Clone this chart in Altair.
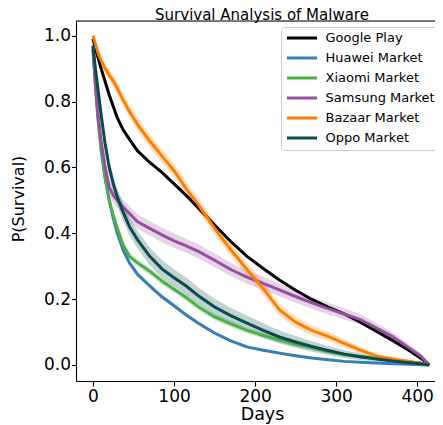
import altair as alt
import pandas as pd

# ---- data ----
days = [0, 3, 6, 10, 15, 20, 25, 30, 37, 45, 55, 70, 85, 100, 115, 130, 150, 170,
        190, 210, 230, 250, 270, 290, 310, 330, 350, 370, 390, 405, 415]

google_play = [0.99, 0.96, 0.935, 0.90, 0.86, 0.82, 0.785, 0.75, 0.715, 0.685, 0.65, 0.615,
               0.585, 0.55, 0.515, 0.477, 0.425, 0.375, 0.33, 0.293, 0.258, 0.227, 0.199,
               0.176, 0.155, 0.13, 0.102, 0.074, 0.044, 0.02, 0.0]
huawei = [0.97, 0.86, 0.76, 0.66, 0.57, 0.50, 0.445, 0.40, 0.35, 0.31, 0.275, 0.24, 0.207,
          0.18, 0.152, 0.127, 0.097, 0.073, 0.055, 0.045, 0.036, 0.028, 0.021, 0.016, 0.011,
          0.008, 0.006, 0.004, 0.002, 0.001, 0.0]
xiaomi = [0.96, 0.85, 0.75, 0.65, 0.565, 0.50, 0.455, 0.415, 0.365, 0.33, 0.31, 0.285, 0.255,
          0.23, 0.205, 0.177, 0.146, 0.125, 0.105, 0.09, 0.076, 0.063, 0.052, 0.041, 0.032,
          0.025, 0.02, 0.016, 0.01, 0.005, 0.0]
samsung = [0.96, 0.85, 0.76, 0.68, 0.60, 0.54, 0.515, 0.50, 0.48, 0.46, 0.435, 0.415, 0.395,
           0.377, 0.362, 0.345, 0.318, 0.29, 0.267, 0.248, 0.228, 0.208, 0.189, 0.171, 0.155,
           0.138, 0.112, 0.086, 0.052, 0.026, 0.0]
bazaar = [1.0, 0.975, 0.95, 0.925, 0.90, 0.88, 0.862, 0.84, 0.805, 0.77, 0.73, 0.68, 0.635,
          0.59, 0.535, 0.487, 0.415, 0.35, 0.29, 0.232, 0.168, 0.13, 0.105, 0.087, 0.066,
          0.045, 0.027, 0.018, 0.011, 0.005, 0.0]
oppo = [0.97, 0.90, 0.84, 0.76, 0.67, 0.60, 0.55, 0.51, 0.465, 0.42, 0.38, 0.33, 0.292, 0.265,
        0.24, 0.21, 0.176, 0.15, 0.127, 0.105, 0.085, 0.07, 0.056, 0.044, 0.033, 0.025, 0.018,
        0.012, 0.007, 0.004, 0.0]

# half-widths of the confidence bands
ci_google_play = [0.0, 0.002, 0.002, 0.002, 0.002, 0.002, 0.002, 0.002, 0.002, 0.002, 0.002,
                  0.002, 0.002, 0.002, 0.002, 0.002, 0.002, 0.002, 0.002, 0.002, 0.002, 0.002,
                  0.002, 0.002, 0.002, 0.002, 0.002, 0.002, 0.002, 0.001, 0.0]
ci_huawei = [0.005, 0.008, 0.008, 0.008, 0.008, 0.008, 0.007, 0.007, 0.007, 0.006, 0.006,
             0.006, 0.006, 0.005, 0.005, 0.005, 0.005, 0.004, 0.004, 0.004, 0.004, 0.003,
             0.003, 0.003, 0.003, 0.002, 0.002, 0.002, 0.001, 0.001, 0.0]
ci_xiaomi = [0.008, 0.015, 0.015, 0.015, 0.015, 0.014, 0.014, 0.013, 0.013, 0.012, 0.012,
             0.012, 0.012, 0.011, 0.011, 0.011, 0.01, 0.01, 0.009, 0.009, 0.008, 0.008,
             0.007, 0.007, 0.006, 0.006, 0.005, 0.005, 0.004, 0.003, 0.0]
ci_samsung = [0.01, 0.018, 0.02, 0.021, 0.022, 0.022, 0.022, 0.022, 0.022, 0.022, 0.022,
              0.022, 0.022, 0.022, 0.021, 0.021, 0.021, 0.02, 0.02, 0.02, 0.019, 0.019,
              0.018, 0.018, 0.017, 0.016, 0.015, 0.013, 0.011, 0.008, 0.0]
ci_bazaar = [0.005, 0.008, 0.01, 0.012, 0.015, 0.016, 0.017, 0.018, 0.019, 0.02, 0.02, 0.02,
             0.02, 0.021, 0.021, 0.021, 0.021, 0.02, 0.02, 0.019, 0.018, 0.017, 0.015, 0.014,
             0.012, 0.01, 0.008, 0.006, 0.004, 0.003, 0.0]
ci_oppo = [0.01, 0.015, 0.018, 0.02, 0.022, 0.024, 0.025, 0.026, 0.027, 0.027, 0.027, 0.027,
           0.027, 0.026, 0.026, 0.025, 0.025, 0.024, 0.023, 0.022, 0.02, 0.018, 0.016, 0.014,
           0.012, 0.01, 0.008, 0.006, 0.004, 0.003, 0.0]

series_names = ["Google Play", "Huawei Market", "Xiaomi Market",
                "Samsung Market", "Bazaar Market", "Oppo Market"]
series_colors = ["#000000", "#377eb8", "#4daf4a", "#984ea3", "#ff7f00", "#0a4b4b"]
x_ticks = [0, 100, 200, 300, 400]
y_ticks = [0.0, 0.2, 0.4, 0.6, 0.8, 1.0]

values = [google_play, huawei, xiaomi, samsung, bazaar, oppo]
bands = [ci_google_play, ci_huawei, ci_xiaomi, ci_samsung, ci_bazaar, ci_oppo]

rows = []
for name, vals, cis in zip(series_names, values, bands):
    for d, v, c in zip(days, vals, cis):
        rows.append({"day": d, "p": v, "lo": max(v - c, 0.0), "hi": v + c, "series": name})
df = pd.DataFrame(rows)

FONT = "DejaVu Sans"
W, H = 359, 360

xscale = alt.Scale(domain=[-21, 422], nice=False, zero=False)
yscale = alt.Scale(domain=[-0.0486, 1.0446], nice=False, zero=False)
color_scale = alt.Scale(domain=series_names, range=series_colors)

x_axis = alt.Axis(values=x_ticks, title="Days", grid=False, labelFlush=False,
                  labelFont=FONT, labelFontSize=17, labelColor="black", labelPadding=2,
                  tickSize=5, tickColor="black", tickWidth=1.1,
                  domainColor="black", domainWidth=1.1,
                  titleFont=FONT, titleFontSize=17.5, titleFontWeight="normal",
                  titleColor="black", titleX=186, titleY=24)
y_axis = alt.Axis(values=y_ticks, format=".1f", title="P(Survival)", grid=False,
                  labelFont=FONT, labelFontSize=17, labelColor="black", labelPadding=1,
                  tickSize=4.5, tickColor="black", tickWidth=1.1,
                  domainColor="black", domainWidth=1.1,
                  titleFont=FONT, titleFontSize=16, titleFontWeight="normal",
                  titleColor="black", titleX=-50, titleY=177.5)

base = alt.Chart(df)

band_layers = [
    base.transform_filter(alt.datum.series == name)
    .mark_area(color=col, opacity=0.25, strokeWidth=0)
    .encode(x=alt.X("day:Q", scale=xscale, axis=x_axis),
            y=alt.Y("lo:Q", scale=yscale, axis=y_axis),
            y2="hi:Q")
    for name, col in zip(series_names, series_colors)
]

line = base.mark_line(strokeWidth=3).encode(
    x=alt.X("day:Q", scale=xscale, axis=x_axis),
    y=alt.Y("p:Q", scale=yscale, axis=y_axis),
    color=alt.Color("series:N", scale=color_scale, sort=series_names,
                    legend=alt.Legend(title=None, orient="none", legendX=205, legendY=6,
                                      symbolType="M-1,0L5,0", symbolSize=100,
                                      symbolStrokeWidth=3, symbolOpacity=1,
                                      labelFont=FONT, labelFontSize=13,
                                      labelColor="black", labelOffset=27, rowPadding=6,
                                      padding=4.5, strokeColor="#cccccc", fillColor="white",
                                      cornerRadius=3)),
)

top_spine = alt.Chart(pd.DataFrame({"k": [0]})).mark_rule(
    color="black", strokeWidth=1.1
).encode(x=alt.value(0), x2=alt.value(W), y=alt.value(0))

chart = alt.layer(*band_layers, line, top_spine).properties(
    width=W, height=H,
    title=alt.Title("Survival Analysis of Malware", font=FONT, fontSize=15,
                    fontWeight="normal", color="black", anchor="middle", frame="group",
                    offset=-3, dx=6.5),
    autosize=alt.AutoSizeParams(type="none"),
    padding={"left": 68, "top": 13, "right": 0, "bottom": 44},
).configure_view(stroke=None).configure(background="white")

chart.save("out.html", embed_options={"renderer": "svg", "actions": False})
